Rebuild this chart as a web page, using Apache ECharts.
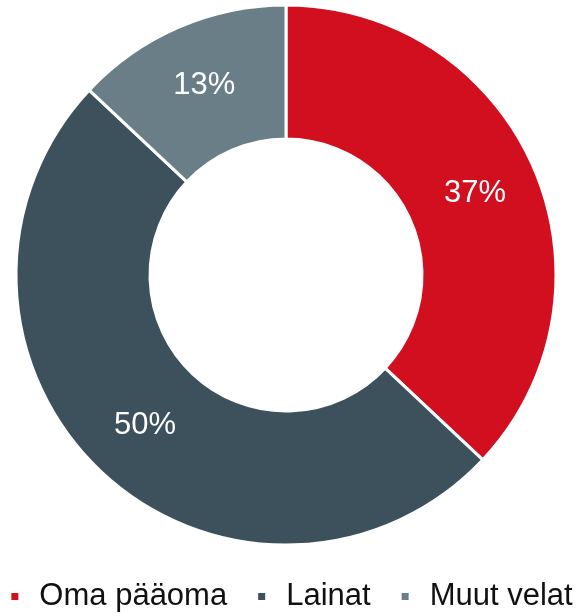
<!DOCTYPE html>
<html>
<head>
<meta charset="utf-8">
<script src="https://cdn.jsdelivr.net/npm/echarts@6/dist/echarts.min.js"></script>
<style>
  html, body { margin: 0; padding: 0; background: #fff; }
  #chart { width: 582px; height: 616px; }
</style>
</head>
<body>
<div id="chart"></div>
<script>
  // osuudet (%)
  var categories = ['Oma pääoma', 'Lainat', 'Muut velat'];
  var values = [37, 50, 13];
  var colors = ['#D10F1F', '#3C515B', '#6A7E88'];

  var chart = echarts.init(document.getElementById('chart'));

  var data = categories.map(function (name, i) {
    return { name: name, value: values[i], itemStyle: { color: colors[i] } };
  });

  var option = {
    animation: false,
    legend: {
      data: categories,
      bottom: -1,
      left: 'center',
      icon: 'rect',
      itemWidth: 9,
      itemHeight: 9,
      itemGap: 29,
      textStyle: {
        fontFamily: 'Liberation Sans, Arial, sans-serif',
        fontSize: 31,
        color: '#111',
        padding: [0, 0, 6, 15]
      }
    },
    series: [
      {
        type: 'pie',
        center: [286, 275],
        radius: [136, 270],
        startAngle: 90,
        clockwise: true,
        itemStyle: {
          borderColor: '#fff',
          borderWidth: 3
        },
        label: {
          show: true,
          position: 'inside',
          formatter: '{c}%',
          color: '#fff',
          fontFamily: 'Liberation Sans, Arial, sans-serif',
          fontSize: 31
        },
        labelLine: { show: false },
        data: data
      }
    ]
  };

  chart.setOption(option);
</script>
</body>
</html>
